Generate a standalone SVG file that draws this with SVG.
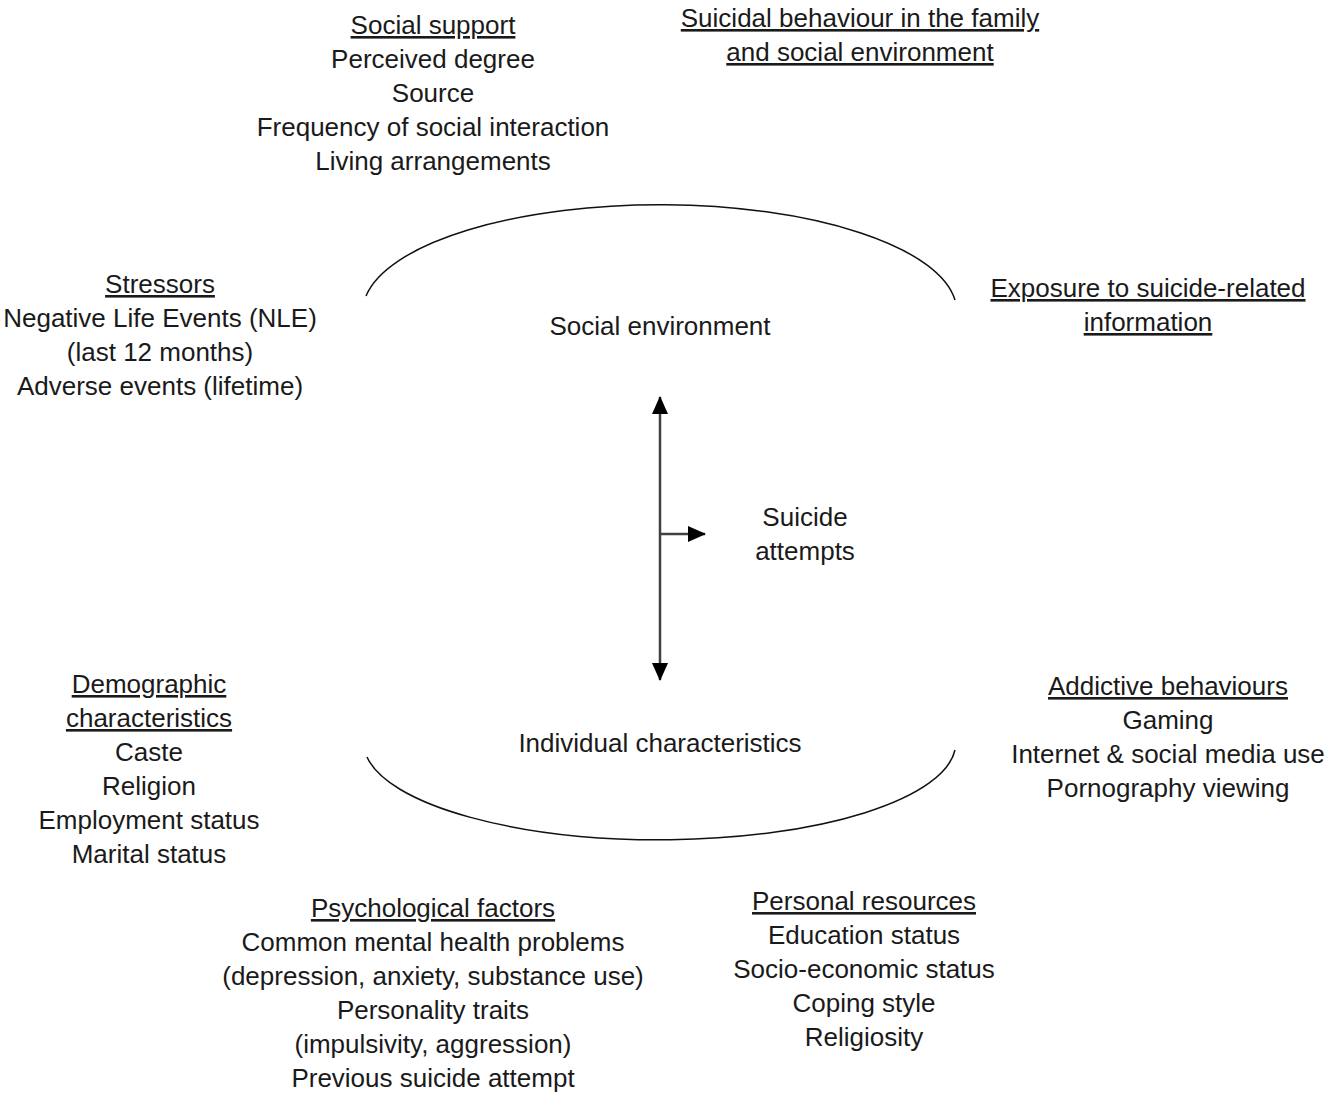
<svg xmlns="http://www.w3.org/2000/svg" width="1341" height="1094" viewBox="0 0 1341 1094">
<style>
text{font-family:"Liberation Sans",Arial,sans-serif;font-size:26px;fill:#1a1a1a;text-anchor:middle}
.u{text-decoration:underline}
.arc{fill:none;stroke:#111;stroke-width:1.5}
.ln{fill:none;stroke:#404040;stroke-width:2.5}
</style>
<defs>
<marker id="ah" markerUnits="userSpaceOnUse" markerWidth="20" markerHeight="20" viewBox="0 0 20 20" refX="18" refY="10" orient="auto-start-reverse">
<path d="M1,2 L19,10 L1,18 Z" fill="#000"/>
</marker>
</defs>
<rect width="1341" height="1094" fill="#fff"/>
<g id="social-environment">
<path class="arc" d="M366,296 A297,107 0 0 1 955,300"/>
<text x="660" y="335">Social environment</text>
</g>
<g id="individual-characteristics">
<path class="arc" d="M367,757 A296,97 0 0 0 955,750"/>
<text x="660" y="752">Individual characteristics</text>
</g>
<g id="suicide-attempts">
<text x="805" y="526">Suicide</text>
<text x="805" y="560">attempts</text>
</g>
<g id="connectors">
<line class="ln" x1="660" y1="397" x2="660" y2="680" marker-start="url(#ah)" marker-end="url(#ah)"/>
<line class="ln" x1="660" y1="534" x2="705" y2="534" marker-end="url(#ah)"/>
</g>
<g id="social-support">
<text x="433" y="34" class="u">Social support</text>
<text x="433" y="68">Perceived degree</text>
<text x="433" y="102">Source</text>
<text x="433" y="136">Frequency of social interaction</text>
<text x="433" y="170">Living arrangements</text>
</g>
<g id="suicidal-behaviour">
<text x="860" y="27" class="u">Suicidal behaviour in the family</text>
<text x="860" y="61" class="u">and social environment</text>
</g>
<g id="stressors">
<text x="160" y="293" class="u">Stressors</text>
<text x="160" y="327">Negative Life Events (NLE)</text>
<text x="160" y="361">(last 12 months)</text>
<text x="160" y="395">Adverse events (lifetime)</text>
</g>
<g id="exposure">
<text x="1148" y="297" class="u">Exposure to suicide-related</text>
<text x="1148" y="331" class="u">information</text>
</g>
<g id="demographic">
<text x="149" y="693" class="u">Demographic</text>
<text x="149" y="727" class="u">characteristics</text>
<text x="149" y="761">Caste</text>
<text x="149" y="795">Religion</text>
<text x="149" y="829">Employment status</text>
<text x="149" y="863">Marital status</text>
</g>
<g id="addictive">
<text x="1168" y="695" class="u">Addictive behaviours</text>
<text x="1168" y="729">Gaming</text>
<text x="1168" y="763">Internet &amp; social media use</text>
<text x="1168" y="797">Pornography viewing</text>
</g>
<g id="psychological">
<text x="433" y="917" class="u">Psychological factors</text>
<text x="433" y="951">Common mental health problems</text>
<text x="433" y="985">(depression, anxiety, substance use)</text>
<text x="433" y="1019">Personality traits</text>
<text x="433" y="1053">(impulsivity, aggression)</text>
<text x="433" y="1087">Previous suicide attempt</text>
</g>
<g id="personal-resources">
<text x="864" y="910" class="u">Personal resources</text>
<text x="864" y="944">Education status</text>
<text x="864" y="978">Socio-economic status</text>
<text x="864" y="1012">Coping style</text>
<text x="864" y="1046">Religiosity</text>
</g>
</svg>
